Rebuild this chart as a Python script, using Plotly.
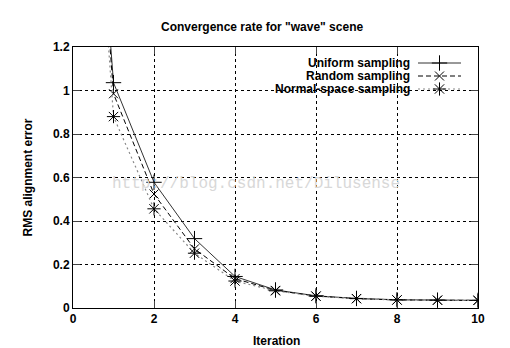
import plotly.graph_objects as go

# ---- data ----
iterations = [0, 1, 2, 3, 4, 5, 6, 7, 8, 9, 10]
uniform = [3.5, 1.036, 0.578, 0.319, 0.145, 0.083, 0.056, 0.044, 0.038, 0.036, 0.035]
random_s = [3.5, 0.985, 0.524, 0.272, 0.135, 0.081, 0.055, 0.043, 0.037, 0.036, 0.035]
normal = [3.5, 0.880, 0.456, 0.252, 0.124, 0.079, 0.054, 0.043, 0.037, 0.036, 0.035]
series_names = ["Uniform sampling", "Random sampling", "Normal-space sampling"]
x_ticks = [0, 2, 4, 6, 8, 10]
y_ticks = [0, 0.2, 0.4, 0.6, 0.8, 1.0, 1.2]

FONT = "Liberation Sans, Arial, sans-serif"
W, H = 510, 348
L, R, T, B = 73, 32, 47, 40
PW, PH = W - L - R, H - T - B
XMAX, YMAX = 10, 1.2


def px(xp):
    return (xp - L) / PW


def py(yp):
    return (T + PH - yp) / PH


styles = [
    dict(line=dict(color="#333333", width=1, dash="solid"), symbol="cross-thin", size=11),
    dict(line=dict(color="#000000", width=1, dash="5px,3px"), symbol="x-thin", size=9),
    dict(line=dict(color="#888888", width=1.2, dash="2px,3px"), symbol="asterisk", size=11),
]
series = [uniform, random_s, normal]

fig = go.Figure()

# white background behind legend (hides grid)
fig.add_shape(type="rect", xref="paper", yref="paper", x0=px(245), x1=px(477),
              y0=py(97), y1=py(55),
              fillcolor="white", line=dict(width=0), layer="below")

for name, ys, st in zip(series_names, series, styles):
    fig.add_trace(go.Scatter(
        x=iterations, y=ys, mode="lines+markers", name=name,
        line=st["line"],
        marker=dict(symbol=st["symbol"], size=st["size"], color="black",
                    line=dict(color="black", width=1)),
        showlegend=False, cliponaxis=True,
    ))

# custom gnuplot-style legend (text then sample), sample placed in data units of the key box
rows_y = [63, 76, 89]
for name, st, ry in zip(series_names, styles, rows_y):
    yk = py(ry) * YMAX
    fig.add_trace(go.Scatter(
        x=[px(418) * XMAX, px(461) * XMAX], y=[yk, yk], mode="lines",
        line=st["line"], showlegend=False, hoverinfo="skip"))
    fig.add_trace(go.Scatter(
        x=[px(439.5) * XMAX], y=[yk], mode="markers",
        marker=dict(symbol=st["symbol"], size=st["size"], color="black",
                    line=dict(color="black", width=1)),
        showlegend=False, hoverinfo="skip"))
    fig.add_annotation(x=px(411), y=py(ry), xref="paper", yref="paper",
                       text="<b>%s</b>" % name, borderpad=0,
                       showarrow=False, xanchor="right", yanchor="middle",
                       font=dict(family=FONT, size=12, color="black"))

grid = dict(showgrid=True, gridcolor="black", gridwidth=1, griddash="3px,3px")
tickfont = dict(family=FONT, size=12, color="black", weight=700)
fig.update_layout(
    width=W, height=H, margin=dict(l=L, r=R, t=T, b=B),
    paper_bgcolor="white", plot_bgcolor="white",
    font=dict(family=FONT, size=12, color="black"),
    xaxis=dict(range=[0, XMAX], tickvals=x_ticks, ticks="inside", ticklen=7,
               showline=True, linecolor="black", linewidth=1, mirror="ticks",
               tickfont=tickfont, zeroline=False, automargin=False, **grid),
    yaxis=dict(range=[0, YMAX], tickvals=y_ticks, ticks="inside", ticklen=7,
               showline=True, linecolor="black", linewidth=1, mirror="ticks",
               tickfont=tickfont, zeroline=False, automargin=False, **grid),
)

# titles
fig.add_annotation(x=px(262), y=py(27), xref="paper", yref="paper",
                   text='<b>Convergence rate for "wave" scene</b>', showarrow=False,
                   xanchor="center", yanchor="middle",
                   font=dict(family=FONT, size=12, color="black"))
fig.add_annotation(x=px(276), y=py(341), xref="paper", yref="paper", text="<b>Iteration</b>",
                   showarrow=False, xanchor="center", yanchor="middle",
                   font=dict(family=FONT, size=12, color="black"))
fig.add_annotation(x=px(27), y=py(177.5), xref="paper", yref="paper",
                   text="<b>RMS alignment error</b>",
                   showarrow=False, textangle=-90, xanchor="center", yanchor="middle",
                   font=dict(family=FONT, size=12, color="black"))
# watermark
fig.add_annotation(x=px(110), y=py(184), xref="paper", yref="paper",
                   text="http://blog.csdn.net/Dilusense",
                   showarrow=False, xanchor="left", yanchor="middle",
                   font=dict(family="Liberation Mono", size=16, color="#d8d8d8"))

fig.write_html("out.html")
